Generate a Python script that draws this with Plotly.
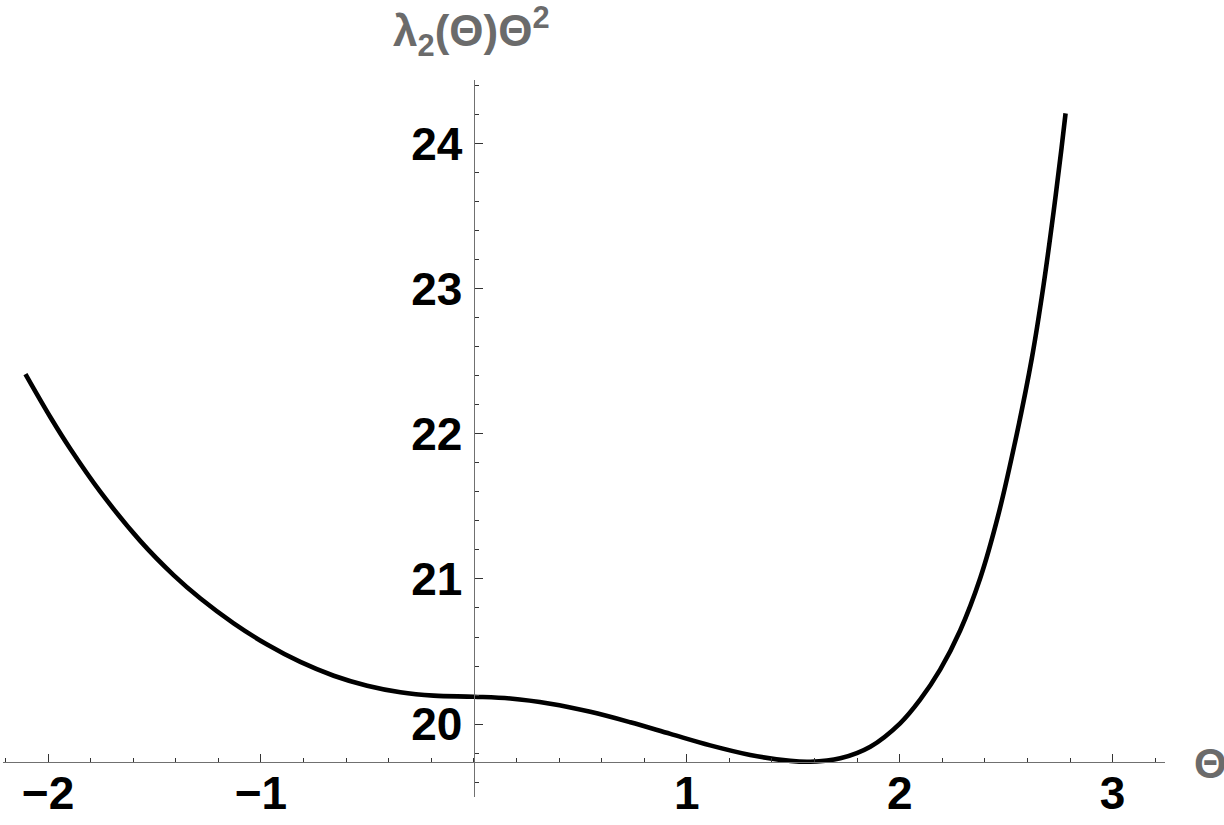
import plotly.graph_objects as go

# Data
theta = [-2.106, -1.988, -1.894, -1.754, -1.566, -1.409, -1.284, -1.128, -0.971,
         -0.815, -0.658, -0.501, -0.345, -0.189, 0.0, 0.171, 0.359, 0.547, 0.735,
         0.923, 1.110, 1.298, 1.486, 1.580, 1.721, 1.862, 2.002, 2.096, 2.190,
         2.284, 2.378, 2.464, 2.550, 2.621, 2.675, 2.722, 2.760, 2.779]
value = [22.412, 22.113, 21.894, 21.600, 21.261, 21.025, 20.865, 20.694, 20.548,
         20.428, 20.333, 20.264, 20.219, 20.196, 20.188, 20.176, 20.140, 20.084, 20.012,
         19.932, 19.853, 19.787, 19.746, 19.740, 19.764, 19.844, 20.005, 20.168, 20.375,
         20.645, 21.005, 21.447, 22.000, 22.525, 23.020, 23.523, 23.970, 24.210]

x_ticks = [-2, -1, 1, 2, 3]
y_ticks = [20, 21, 22, 23, 24]

W, H = 1224, 825
axis_gray = "#707070"
label_gray = "#6b6b6b"
tick_font = dict(family="Liberation Sans, Arial, sans-serif", size=46, color="black", weight="bold")

fig = go.Figure()
fig.add_trace(go.Scatter(x=theta, y=value, mode="lines",
                         line=dict(color="black", width=4.6, shape="spline", smoothing=1.0),
                         hoverinfo="skip", showlegend=False))

fig.update_layout(
    width=W, height=H,
    margin=dict(l=0, r=0, t=0, b=0, pad=0),
    paper_bgcolor="white", plot_bgcolor="white",
    xaxis=dict(
        domain=[3.3 / W, 1165 / W], range=[-2.21, 3.246],
        anchor="free", position=1 - 762.3 / H,
        showline=True, linecolor=axis_gray, linewidth=1,
        showgrid=False, zeroline=False, automargin=False,
        tickmode="array", tickvals=x_ticks, ticktext=[str(v).replace("-", "\u2212") for v in x_ticks],
        ticks="inside", ticklen=8, tickwidth=1, tickcolor="#333333",
        tickfont=tick_font, ticklabelstandoff=-10,
        minor=dict(tick0=0, dtick=0.2, ticks="inside", ticklen=4, tickwidth=1, tickcolor="#333333", showgrid=False),
    ),
    yaxis=dict(
        domain=[1 - 796.7 / H, 1 - 80 / H], range=[19.499, 24.44],
        anchor="free", position=473.5 / W,
        showline=True, linecolor=axis_gray, linewidth=1,
        showgrid=False, zeroline=False, automargin=False,
        tickmode="array", tickvals=y_ticks, ticktext=[str(v) for v in y_ticks],
        ticks="inside", ticklen=8, tickwidth=1, tickcolor="#333333",
        tickfont=tick_font, ticklabelstandoff=2,
        minor=dict(tick0=0, dtick=0.2, ticks="inside", ticklen=4, tickwidth=1, tickcolor="#333333", showgrid=False),
    ),
    annotations=[
        dict(text="<b>λ<sub>2</sub>(Θ)Θ<sup>2</sup></b>", xref="paper", yref="paper",
             x=391 / W, y=1 - 31 / H, xanchor="left", yanchor="middle", showarrow=False,
             font=dict(family="Liberation Sans, Arial, sans-serif", size=44, color=label_gray)),
        dict(text="<b>Θ</b>", xref="paper", yref="paper",
             x=1192 / W, y=1 - 763 / H, xanchor="left", yanchor="middle", showarrow=False,
             font=dict(family="Liberation Sans, Arial, sans-serif", size=42, color=label_gray)),
    ],
)

fig.write_html("out.html", config={"displayModeBar": False},
               post_script="document.body.style.margin='0';document.body.style.overflow='hidden';")
